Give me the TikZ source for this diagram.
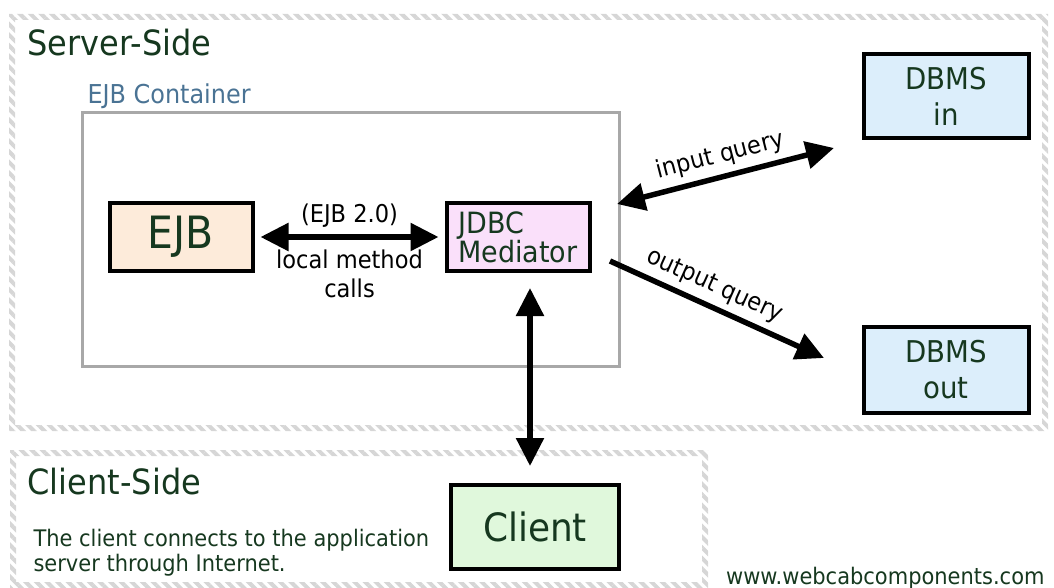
\documentclass[tikz,border=0pt]{standalone}
\usepackage{fontspec}
\setmainfont{DejaVu Sans}[FakeStretch=0.92]
\usetikzlibrary{arrows.meta, positioning, patterns.meta}

\definecolor{hatchgray}{HTML}{D6D6D6}
\definecolor{boxgray}{HTML}{A8A8A8}
\definecolor{darkgreen}{HTML}{16381F}
\definecolor{steel}{HTML}{4A7394}
\definecolor{ejbfill}{HTML}{FDEBDA}
\definecolor{jdbcfill}{HTML}{FAE0FA}
\definecolor{dbmsfill}{HTML}{DCEEFB}
\definecolor{clientfill}{HTML}{E0F8DC}

\tikzstyle{region} = [pattern={Lines[angle=-45, distance=7.5pt, line width=4pt]}, pattern color=hatchgray, even odd rule]
\tikzstyle{component} = [rectangle, draw=black, line width=4pt, text=darkgreen, inner sep=0pt, align=center]
\tikzstyle{title} = [anchor=base west, text=darkgreen, font=\fontsize{34.8}{39}\selectfont]
\tikzstyle{label} = [text=black, font=\fontsize{24.5}{29}\selectfont, align=center]
\tikzstyle{arrow} = [line width=5.5pt, -{Triangle[length=28pt,width=27pt]}]
\tikzstyle{biarrow} = [line width=5.5pt, {Triangle[length=28pt,width=27pt]}-{Triangle[length=28pt,width=27pt]}]

\begin{document}
\begin{tikzpicture}[x=1pt, y=-1pt, node distance=274pt]
	\useasboundingbox (0,0) rectangle (1054,588);

	% hatched bands round both sides
	\path [region] (9,14) rectangle (1048,431) (15,20) rectangle (1042,425);
	\path [region] (10,450) rectangle (708,588) (16,456) rectangle (702,582);
	\node (server) [title] at (24,56) {Server-Side};
	\node (clientside) [title] at (24,494) {Client-Side};

	% container
	\draw [boxgray, line width=3pt] (82,113) rectangle (619,366);
	\node (container) [anchor=base west, text=steel, font=\fontsize{26}{30}\selectfont] at (84,104) {EJB Container};

	\node (ejb) [component, fill=ejbfill, minimum width=143pt, minimum height=68pt, font=\fontsize{44.5}{48}\selectfont] at (181,237) {EJB};
	\node (jdbc) [component, fill=jdbcfill, minimum width=143pt, minimum height=68pt, font=\fontsize{29.3}{29}\selectfont, align=left] at (518,237) {JDBC\\Mediator};
	\node (dbmsin) [component, fill=dbmsfill, minimum width=165pt, minimum height=84pt, font=\fontsize{30}{36}\selectfont] at (946,96) {DBMS\\in};
	\node (dbmsout) [component, fill=dbmsfill, minimum width=165pt, minimum height=86pt, font=\fontsize{30}{36}\selectfont, below of=dbmsin] {DBMS\\out};
	\node (client) [component, fill=clientfill, minimum width=168pt, minimum height=84pt, font=\fontsize{39}{42}\selectfont] at (535,527) {Client};

	\node (note) [anchor=north west, text=darkgreen, align=left, font=\fontsize{22.8}{25}\selectfont] at (30,526) {The client connects to the application\\server through Internet.};
	\node (web) [anchor=base east, text=darkgreen, font=\fontsize{22.8}{24}\selectfont] at (1048,584) {www.webcabcomponents.com};

	% free ends of the query arrows
	\coordinate (inA) at (617,204);
	\coordinate (inB) at (834,148);
	\coordinate (outA) at (610,261);
	\coordinate (outB) at (824,358);
	\coordinate (link) at (530,0);

	\draw [biarrow, shorten <=6pt, shorten >=6pt] (ejb) -- node[label, above=4pt] {(EJB 2.0)} node[label, below=7pt] {local method\\calls} (jdbc);
	\draw [biarrow] (inA) -- node[label, sloped, above=3pt] {input query} (inB);
	\draw [arrow] (outA) -- node[label, sloped, above=3pt, pos=0.45] {output query} (outB);
	\draw [biarrow, shorten <=15pt, shorten >=17pt] (jdbc.south -| link) -- (client.north -| link);
\end{tikzpicture}
\end{document}
